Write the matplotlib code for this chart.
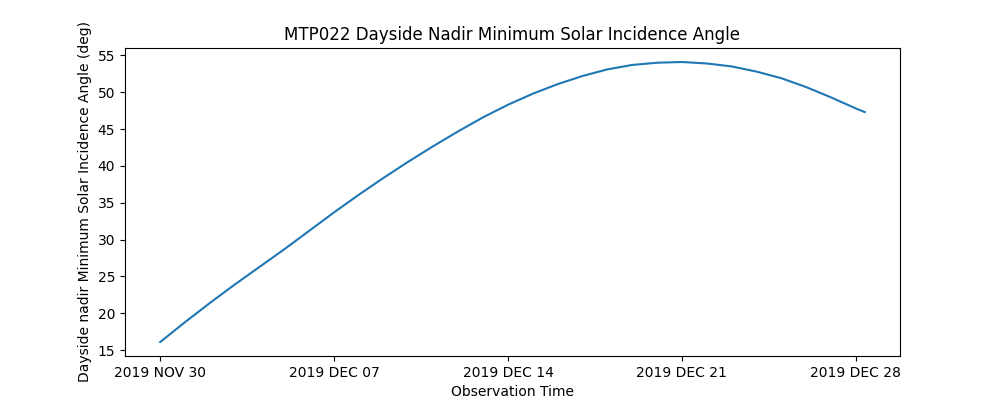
import numpy as np
import pandas as pd
import matplotlib
matplotlib.use("Agg")
import matplotlib.pyplot as plt
import matplotlib.dates as mdates

# values, roughly one per day
times = pd.to_datetime([
    "2019-11-30 00:00", "2019-12-01 00:00", "2019-12-02 00:00", "2019-12-03 00:00",
    "2019-12-04 00:00", "2019-12-05 00:00", "2019-12-06 00:00", "2019-12-07 00:00",
    "2019-12-08 00:00", "2019-12-09 00:00", "2019-12-10 00:00", "2019-12-11 00:00",
    "2019-12-12 00:00", "2019-12-13 00:00", "2019-12-14 00:00", "2019-12-15 00:00",
    "2019-12-16 00:00", "2019-12-17 00:00", "2019-12-18 00:00", "2019-12-19 00:00",
    "2019-12-20 00:00", "2019-12-21 00:00", "2019-12-22 00:00", "2019-12-23 00:00",
    "2019-12-24 00:00", "2019-12-25 00:00", "2019-12-26 00:00", "2019-12-27 00:00",
    "2019-12-28 00:00", "2019-12-28 08:40",
])
incidence = [
    16.1, 18.8, 21.4, 23.9, 26.3, 28.7, 31.2, 33.7,
    36.1, 38.4, 40.6, 42.7, 44.7, 46.6, 48.3, 49.8,
    51.1, 52.2, 53.1, 53.7, 54.0, 54.1, 53.9, 53.5,
    52.8, 51.9, 50.7, 49.3, 47.8, 47.3,
]
tick_dates = pd.to_datetime(["2019-11-30", "2019-12-07", "2019-12-14",
                             "2019-12-21", "2019-12-28"])

fig, ax = plt.subplots(figsize=(10, 4))
ax.plot(times, incidence)

ax.set_xticks(tick_dates)
ax.xaxis.set_major_formatter(
    plt.FuncFormatter(lambda x, pos: mdates.num2date(x).strftime("%Y %b %d").upper()))

ax.set_title("MTP022 Dayside Nadir Minimum Solar Incidence Angle")
ax.set_xlabel("Observation Time")
ax.set_ylabel("Dayside nadir Minimum Solar Incidence Angle (deg)")

fig.savefig("out.png", dpi=100)
